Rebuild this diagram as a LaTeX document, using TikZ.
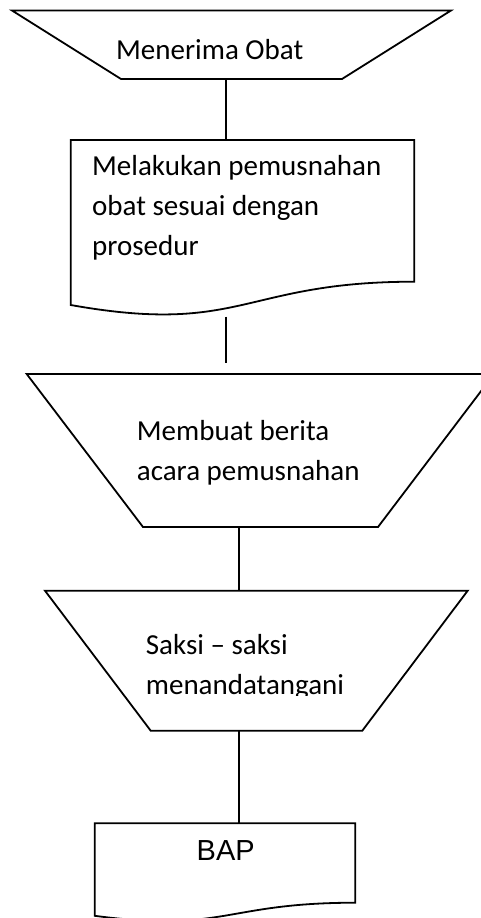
\documentclass[tikz,border=0pt]{standalone}
\usepackage{fontspec}
\setmainfont{Carlito}
\newfontfamily\arialfont{Liberation Sans}
\begin{document}
\begin{tikzpicture}[x=1pt,y=-1pt,
  outline/.style={draw=black,line width=1.8pt,line join=miter},
  link/.style={draw=black,line width=1.8pt},
  lbl/.style={inner sep=0pt,anchor=base west,font=\fontsize{29}{40}\selectfont},
  doclbl/.style={inner sep=0pt,anchor=base,font=\arialfont\fontsize{29}{40}\selectfont}]
\useasboundingbox (0,0) rectangle (481,918);
\clip (0,0) rectangle (481,918);

% manual operation: receiving the drugs
\draw[outline] (12,10.5) -- (451,10.5) -- (342,79) -- (121,79) -- cycle;
\coordinate (recvB) at (226,79);
\node[lbl] (recv) at (116,59.3) {Menerima Obat};

% document: destruction by procedure
\draw[outline] (70.7,140) -- (414.3,140) -- (414.3,281.7)
  .. controls (242.5,281.7) and (242.5,335.7) .. (70.7,305) -- cycle;
\coordinate (destT) at (226,140);
\coordinate (destB) at (226,316.5);
\coordinate (destEnd) at (226,363);
\node[lbl] (dest1) at (92,175) {Melakukan pemusnahan};
\node[lbl] (dest2) at (92,215) {obat sesuai dengan};
\node[lbl] (dest3) at (92,255) {prosedur};

% manual operation: writing the report
\draw[outline] (26.7,374) -- (494,374) -- (378,527) -- (143,527) -- cycle;
\coordinate (reportB) at (238.7,527);
\node[lbl] (report1) at (136.7,440.7) {Membuat berita};
\node[lbl] (report2) at (136.7,480.3) {acara pemusnahan};

% manual operation: witnesses sign
\draw[outline] (45,590.7) -- (467.7,590.7) -- (362.3,730.7) -- (150.7,730.7) -- cycle;
\coordinate (signT) at (238.7,590.7);
\coordinate (signB) at (238.7,730.7);
\begin{scope}
  \clip (0,600) rectangle (481,695);
  \node[lbl] (sign1) at (145.7,654) {Saksi – saksi};
  \node[lbl] (sign2) at (145.7,694) {menandatangani};
\end{scope}

% document: BAP
\draw[outline] (94.7,823.3) -- (355.3,823.3) -- (355.3,902.7)
  .. controls (225,902.7) and (225,932.9) .. (94.7,915.8) -- cycle;
\coordinate (bapT) at (238.7,823.3);
\node[doclbl] (bap) at (225.7,860.7) {BAP};

% connectors
\draw[link] (recvB) -- (destT);
\draw[link] (destB) -- (destEnd);
\draw[link] (reportB) -- (signT);
\draw[link] (signB) -- (bapT);
\end{tikzpicture}
\end{document}
